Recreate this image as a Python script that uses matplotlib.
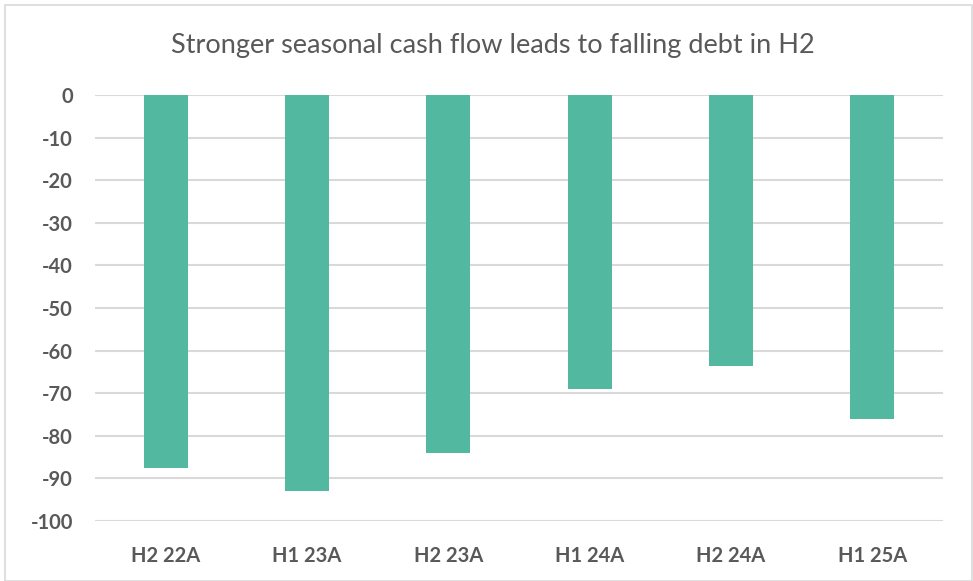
import matplotlib
matplotlib.use("Agg")
import matplotlib.pyplot as plt
from matplotlib.patches import Rectangle

categories = ["H2 22A", "H1 23A", "H2 23A", "H1 24A", "H2 24A", "H1 25A"]
values = [-87.5, -93, -84, -69, -63.5, -76]
yticks = list(range(0, -101, -10))
title = "Stronger seasonal cash flow leads to falling debt in H2"

plt.rcParams['font.family'] = ['Lato', 'DejaVu Sans']
fig = plt.figure(figsize=(9.73, 5.81), dpi=100)
ax = fig.add_axes([95/973, 1 - 521/581, (943-95)/973, (521-95)/581])

x = list(range(len(categories)))
ax.bar(x, values, width=0.31, color="#52B9A0", zorder=3)
ax.set_xlim(-0.5, len(categories) - 0.5)
ax.set_ylim(-100, 0)
ax.set_yticks(yticks)
ax.set_yticklabels([str(v) for v in yticks], fontsize=14.5, fontweight='bold', color="#595959")
ax.set_xticks(x)
ax.set_xticklabels(categories, fontsize=14.5, fontweight='bold', color="#595959")
ax.tick_params(axis='y', length=0, pad=16)
ax.tick_params(axis='x', length=0, pad=18)
ax.grid(axis='y', color="#D9D9D9", linewidth=1.5, zorder=0)
for s in ax.spines.values():
    s.set_visible(False)

fig.text(493/973, 1 - 46/581, title, ha='center', va='center', fontsize=19.5, color="#595959")
fig.patches.append(Rectangle((5/973, 0), 967/973, 1 - 5/581, transform=fig.transFigure,
                             fill=False, edgecolor="#D9D9D9", linewidth=1.2))
fig.savefig("out.png", dpi=100)
